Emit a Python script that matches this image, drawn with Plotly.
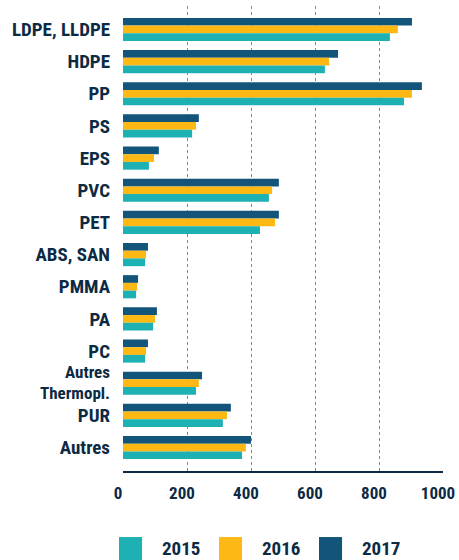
import plotly.graph_objects as go

categories = ["LDPE, LLDPE", "HDPE", "PP", "PS", "EPS", "PVC", "PET", "ABS, SAN",
              "PMMA", "PA", "PC", "Autres Thermopl.", "PUR", "Autres"]
v2015 = [834, 631, 878, 216, 81, 456, 428, 69, 41, 94, 69, 228, 312, 372]
v2016 = [859, 644, 903, 228, 97, 466, 475, 72, 44, 100, 72, 237, 325, 384]
v2017 = [903, 672, 934, 237, 112, 487, 487, 78, 47, 106, 78, 247, 337, 400]
years = ["2015", "2016", "2017"]
colors = {"2015": "#1db1b3", "2016": "#fdb813", "2017": "#13547a"}
xticks = [0, 200, 400, 600, 800, 1000]
two_line = {"Autres Thermopl.": ["Autres", "Thermopl."]}

TXT = "#0c2a44"
FONT = "Roboto Condensed, Roboto, sans-serif"
LABEL_FONT = dict(size=19, family=FONT, color=TXT, weight="bold")
SMALL_LABEL_FONT = dict(size=17, family=FONT, color=TXT, weight="bold")

fig = go.Figure()
for yr, vals in [("2017", v2017), ("2016", v2016), ("2015", v2015)]:
    fig.add_trace(go.Bar(y=categories, x=vals, orientation="h", name=yr,
                         marker=dict(color=colors[yr], line=dict(width=0)),
                         showlegend=False, hoverinfo="skip"))

tick_text = ["" if c in two_line else c for c in categories]

fig.update_layout(
    width=459, height=560,
    margin=dict(l=123, r=16, t=6, b=89),
    paper_bgcolor="white", plot_bgcolor="white",
    barmode="group", bargap=0.28, bargroupgap=0,
    font=dict(family=FONT, color=TXT),
    xaxis=dict(range=[0, 1000], tickvals=xticks, showgrid=True, automargin=False,
               gridcolor="#7d8a97", griddash="dot", gridwidth=1,
               zeroline=False, showline=True, linecolor=TXT, linewidth=2,
               ticks="", ticklabelstandoff=6, ticklabelshift=-5,
               ticklabeloverflow="allow",
               tickfont=dict(size=17, family=FONT, color=TXT, weight="bold")),
    yaxis=dict(range=[13.73, -0.73], showgrid=False, zeroline=False, automargin=False,
               tickmode="array", tickvals=categories, ticktext=tick_text,
               showline=False, ticks="", ticklabelstandoff=12,
               tickfont=LABEL_FONT),
)

# two-line category label with tight line spacing
for cat, lines in two_line.items():
    for line, shift in zip(lines, [11, -10]):
        fig.add_annotation(xref="paper", yref="y", x=0, y=cat, text=line,
                           showarrow=False, xanchor="right", yanchor="middle",
                           xshift=-12, yshift=shift, borderpad=0,
                           font=SMALL_LABEL_FONT)

# legend drawn as squares + labels below plot
leg_x = [-0.0125, 0.3, 0.6125]
for i, yr in enumerate(years):
    x0 = leg_x[i]
    fig.add_shape(type="rect", xref="paper", yref="paper",
                  x0=x0, x1=x0 + 0.072, y0=-0.142, y1=-0.192,
                  fillcolor=colors[yr], line=dict(width=0))
    fig.add_annotation(xref="paper", yref="paper", x=x0 + 0.128, y=-0.167,
                       text=yr, showarrow=False, xanchor="left", yanchor="middle",
                       font=dict(size=19, family=FONT, color=TXT, weight="bold"))

fig.write_html("out.html", config={"displayModeBar": False},
               post_script="document.body.style.margin='0';")
